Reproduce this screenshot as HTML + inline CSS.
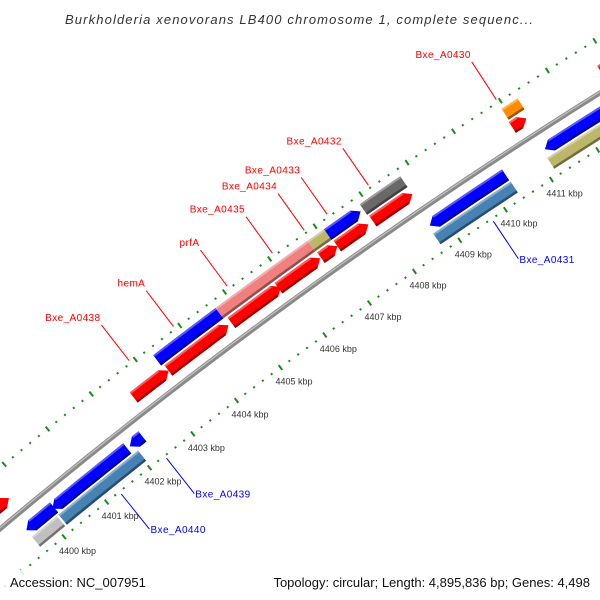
<!DOCTYPE html>
<html><head><meta charset="utf-8"><style>
html,body{margin:0;padding:0;background:#fff;overflow:hidden;width:600px;height:600px;}
svg{display:block;font-family:"Liberation Sans","DejaVu Sans",sans-serif;overflow:hidden;}
</style></head><body>
<svg id="map" width="600" height="600" viewBox="0 0 600 600" xmlns="http://www.w3.org/2000/svg">
<rect width="600" height="600" fill="#fff"/>
<g id="rings"></g>
<g id="backbone"></g>
<g id="genes"></g>
<g id="labels"></g>
<text x="299" y="24" text-anchor="middle" font-size="13" font-style="italic" fill="#333" textLength="468" lengthAdjust="spacing">Burkholderia xenovorans LB400 chromosome 1, complete sequenc...</text>
<rect x="0" y="570" width="600" height="30" fill="#fff" fill-opacity="0.85"/>
<text x="10" y="587" font-size="13" fill="#111">Accession: NC_007951</text>
<text x="590" y="587" font-size="13" fill="#111" text-anchor="end">Topology: circular; Length: 4,895,836 bp; Genes: 4,498</text>
</svg>
<script>
// data (kbp)
const tickKbp = [4399,4400,4401,4402,4403,4404,4405,4406,4407,4408,4409,4410,4411,4412,4413];
const tickLabels = ["4399 kbp","4400 kbp","4401 kbp","4402 kbp","4403 kbp","4404 kbp","4405 kbp","4406 kbp","4407 kbp","4408 kbp","4409 kbp","4410 kbp","4411 kbp","4412 kbp","4413 kbp"];
const geneStart = [4398.95,4402.56,4403.35,4404.77,4405.82,4406.76,4407.12,4407.9,4410.92,4412.8, 4403.3,4404.7,4405.8,4406.74,4407.1,4407.88,4410.94, 4399.55,4400.16,4401.96,4408.7,4411.2, 4399.55,4400.18,4408.67,4411.15];
const geneEnd   = [4399.68,4403.35,4404.7,4405.87,4406.74,4407.12,4407.8,4408.76,4411.22,4414.5, 4404.7,4405.8,4406.74,4407.17,4407.82,4408.76,4411.28, 4400.2,4401.9,4402.25,4410.35,4414.5, 4400.14,4402.03,4410.36,4414.5];
const geneRow   = [1,1,1,1,1,1,1,1,1,1, 2,2,2,2,2,2,2, -1,-1,-1,-1,-1, -2,-2,-2,-2];
const geneColor = ["#ff0000","#ff0000","#ff0000","#ff0000","#ff0000","#ff0000","#ff0000","#ff0000","#ff0000","#ff0000",
  "#0000ff","#f08080","#f08080","#bdb76b","#0000ff","#696969","#ff8c00",
  "#0000ff","#0000ff","#0000ff","#0000ff","#0000ff",
  "#c0c0c0","#4682b4","#4682b4","#bdb76b"];
const geneDir   = [1,1,1,1,1,1,1,1,1,1, 0,0,0,0,1,0,0, -1,-1,-1,-1,-1, 0,0,0,0];
const labelText = ["Bxe_A0430","Bxe_A0432","Bxe_A0433","Bxe_A0434","Bxe_A0435","prfA","hemA","Bxe_A0438","Bxe_A0439","Bxe_A0440","Bxe_A0431"];
const labelColor = ["#f00","#f00","#f00","#f00","#f00","#f00","#f00","#f00","#00f","#00f","#00f"];
const labelKbp = [4410.95,4408.2,4407.3,4406.8,4406.1,4405.1,4403.9,4402.9,4402.35,4401.3,4409.7];
const labelSide = [1,1,1,1,1,1,1,1,-1,-1,-1];

const NS="http://www.w3.org/2000/svg";
const cx=3417, cy=4600, R=5315;
const p0=Math.atan2(538-cy,65-cx), p1=Math.atan2(182-cy,553-cx);
function phi(k){return p0+(k-4400)*(p1-p0)/11;}
function pt(k,off){const a=phi(k),r=R+off;return [cx+r*Math.cos(a),cy+r*Math.sin(a)];}
function mk(tag,attrs,parent){const e=document.createElementNS(NS,tag);for(const k in attrs)e.setAttribute(k,attrs[k]);parent.appendChild(e);return e;}
function arcPath(k1,k2,off){let d="";const n=30;for(let i=0;i<=n;i++){const p=pt(k1+(k2-k1)*i/n,off);d+=(i?"L":"M")+p[0].toFixed(1)+","+p[1].toFixed(1);}return d;}
const rows={1:18,2:33,"-1":-18,"-2":-33};
const H=6.5;
function dark(c){const n=parseInt(c.slice(1),16);let r=n>>16,g=(n>>8)&255,b=n&255;return "rgb("+Math.round(r*0.6)+","+Math.round(g*0.6)+","+Math.round(b*0.6)+")";}
function light(c){const n=parseInt(c.slice(1),16);let r=n>>16,g=(n>>8)&255,b=n&255;return "rgb("+Math.round(r+(255-r)*0.35)+","+Math.round(g+(255-g)*0.35)+","+Math.round(b+(255-b)*0.35)+")";}

// rings
const rg=document.getElementById('rings');
[47,-47].forEach(off=>{
  for(let k=4397;k<=4415.001;k+=0.2){
    const kk=Math.round(k*10)/10;
    const major=Math.abs(kk-Math.round(kk))<0.01;
    const a=pt(kk,off-(major?3:1)), b=pt(kk,off+(major?3:1));
    const l=mk('line',{x1:a[0],y1:a[1],x2:b[0],y2:b[1],stroke:"#1a8c1a","stroke-width":2},rg);
    
    
  }
});
tickKbp.forEach((k,i)=>{
  const p=pt(k,-47);
  if(p[1]+17>575||p[0]>590) return;
  const t=mk('text',{x:p[0]-5,y:p[1]+17,"font-size":9,fill:"#333"},rg);
  t.textContent=tickLabels[i];
  
  
});
// backbone
const bb=document.getElementById('backbone');
const b1=mk('path',{d:arcPath(4397,4415,0),stroke:"#8a8a8a","stroke-width":5,fill:"none"},bb);


const b2=mk('path',{d:arcPath(4397,4415,1),stroke:"#c4c4c4","stroke-width":1.2,fill:"none"},bb);



// genes
const gg=document.getElementById('genes');
const HEAD=0.14;
function poly(pts){return pts.map(p=>p[0].toFixed(1)+","+p[1].toFixed(1)).join(" ");}
geneStart.forEach((s,i)=>{
  const e=geneEnd[i], off=rows[geneRow[i]], dir=geneDir[i], c=geneColor[i];
  const a=dir===-1?Math.min(s+HEAD,e):s, b=dir===1?Math.max(e-HEAD,s):e;
  const top=[],bot=[];const n=6;
  for(let j=0;j<=n;j++){const k=a+(b-a)*j/n;top.push(pt(k,off+H));bot.push(pt(k,off-H));}
  let pts=[];
  if(dir===-1)pts.push(pt(s,off));
  pts=pts.concat(top);
  if(dir===1)pts.push(pt(e,off));
  pts=pts.concat(bot.reverse());
  const g=mk('polygon',{points:poly(pts),fill:c},gg);
  
  
  const sh=[],hl=[];
  for(let j=0;j<=n;j++){const k=a+(b-a)*j/n;sh.push(pt(k,off-H));hl.push(pt(k,off+H));}
  for(let j=n;j>=0;j--){const k=a+(b-a)*j/n;sh.push(pt(k,off-H+2.5));hl.push(pt(k,off+H-2));}
  const d=mk('polygon',{points:poly(sh),fill:dark(c)},gg);
  
  
  const h=mk('polygon',{points:poly(hl),fill:light(c)},gg);
  
  
});

// labels
const lg=document.getElementById('labels');
labelText.forEach((t,i)=>{
  const side=labelSide[i], k=labelKbp[i];
  const a=pt(k,side*50), b=pt(k,side*95);
  const l=mk('line',{x1:a[0],y1:a[1],x2:b[0],y2:b[1],stroke:labelColor[i],"stroke-width":1},lg);
  
  
  const tx=mk('text',{x:side>0?b[0]-1:b[0]+1,y:side>0?b[1]-4:b[1]+4,"font-size":10,fill:labelColor[i],"letter-spacing":"0.4","text-anchor":side>0?"end":"start"},lg);
  tx.textContent=t;
  
  
});
</script>
</body></html>
